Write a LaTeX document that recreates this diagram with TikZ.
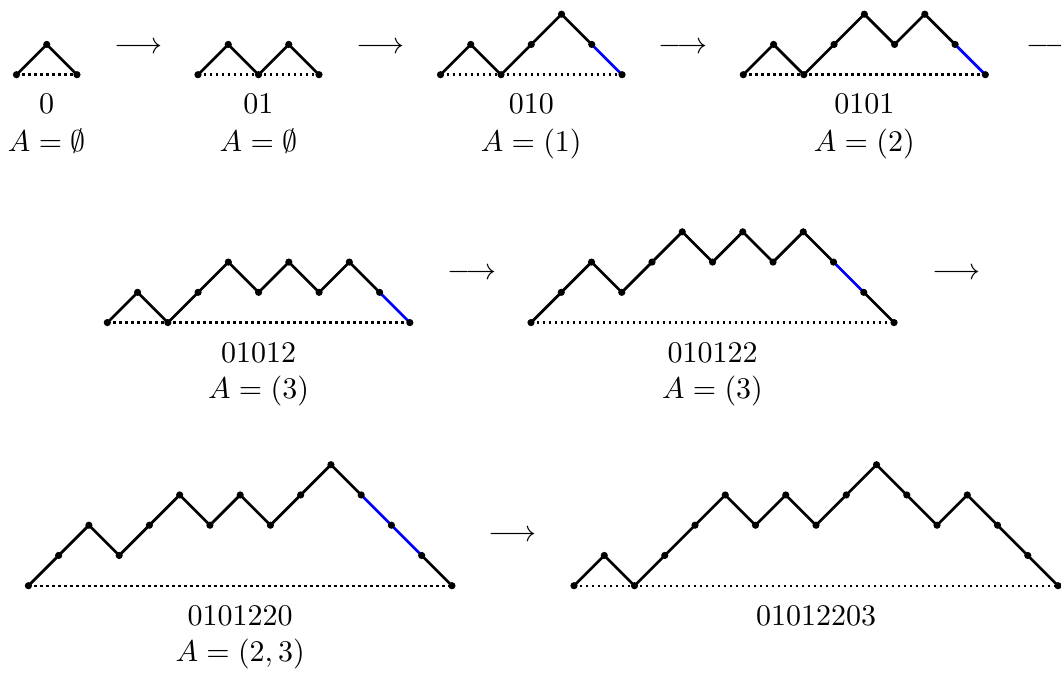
\documentclass[tikz,border=0pt]{standalone}
\usepackage{amssymb}
\usetikzlibrary{positioning}

\tikzset{
  stepline/.style={line width=0.9pt, line cap=round},
  bluestep/.style={stepline, color=blue},
  groundline/.style={line width=0.8pt, dash pattern=on 0.8pt off 1.2pt},
  word/.style={anchor=base, inner sep=0pt},
  setlabel/.style={anchor=base, inner sep=0pt},
  arrowsym/.style={inner sep=0pt}
}

% #1 start, #2 length, #3 heights, blue steps are those after #4 up to #5
\newcommand{\dyckpath}[5]{%
  \begin{scope}[shift={#1}]
    \draw[groundline] (0,0) -- (#2,0);
    \foreach \h [count=\i from 0, remember=\h as \hp (initially 0)] in {#3} {
      \ifnum\i>0
        \pgfmathtruncatemacro{\isblue}{(\i>#4)&&(\i<=#5)}
        \ifnum\isblue=1
          \draw[bluestep] (\i-1,\hp) -- (\i,\h);
        \else
          \draw[stepline] (\i-1,\hp) -- (\i,\h);
        \fi
      \fi
    }
    \foreach \h [count=\i from 0] in {#3}
      \fill (\i,\h) circle (1.2pt);
  \end{scope}}

\begin{document}
\begin{tikzpicture}[x=0.3544cm, y=0.3544cm]
\useasboundingbox (0,0) rectangle (35.074,-22.248);

% first row
\dyckpath{(0.545,-2.469)}{2}{0,1,0}{0}{0}
\dyckpath{(6.545,-2.469)}{4}{0,1,0,1,0}{0}{0}
\dyckpath{(14.562,-2.469)}{6}{0,1,0,1,2,1,0}{5}{6}
\dyckpath{(24.572,-2.469)}{8}{0,1,0,1,2,1,2,1,0}{7}{8}

\node[word] (w0) at (1.545,-3.75) {0};
\node[setlabel] (a0) at (1.545,-5.0) {$A=\emptyset$};
\node[word] (w01) at (8.545,-3.75) {01};
\node[setlabel] (a01) at (8.545,-5.0) {$A=\emptyset$};
\node[word] (w010) at (17.562,-3.75) {010};
\node[setlabel] (a010) at (17.562,-5.0) {$A=(1)$};
\node[word] (w0101) at (28.572,-3.75) {0101};
\node[setlabel] (a0101) at (28.572,-5.0) {$A=(2)$};

\node[arrowsym] (arr1) at (4.579,-1.587) {$\longrightarrow$};
\node[arrowsym] (arr2) at (12.579,-1.587) {$\longrightarrow$};
\node[arrowsym] (arr3) at (22.579,-1.587) {$\longrightarrow$};
\node[arrowsym] (arr4) at (34.74,-1.587) {$\longrightarrow$};

% second row
\dyckpath{(3.548,-10.664)}{10}{0,1,0,1,2,1,2,1,2,1,0}{9}{10}
\dyckpath{(17.554,-10.664)}{12}{0,1,2,1,2,3,2,3,2,3,2,1,0}{10}{11}

\node[word] (w01012) at (8.548,-11.986) {01012};
\node[setlabel] (a01012) at (8.548,-13.174) {$A=(3)$};
\node[word] (w010122) at (23.554,-11.986) {010122};
\node[setlabel] (a010122) at (23.554,-13.174) {$A=(3)$};

\node[arrowsym] (arr5) at (15.60,-9.058) {$\longrightarrow$};
\node[arrowsym] (arr6) at (31.62,-9.058) {$\longrightarrow$};

% third row
\dyckpath{(0.939,-19.362)}{14}{0,1,2,1,2,3,2,3,2,3,4,3,2,1,0}{11}{13}
\dyckpath{(18.975,-19.362)}{16}{0,1,0,1,2,3,2,3,2,3,4,3,2,3,2,1,0}{0}{0}

\node[word] (w0101220) at (7.939,-20.684) {0101220};
\node[setlabel] (a0101220) at (7.939,-21.872) {$A=(2,3)$};
\node[word] (w01012203) at (26.975,-20.684) {01012203};

\node[arrowsym] (arr7) at (16.94,-17.72) {$\longrightarrow$};
\end{tikzpicture}
\end{document}
